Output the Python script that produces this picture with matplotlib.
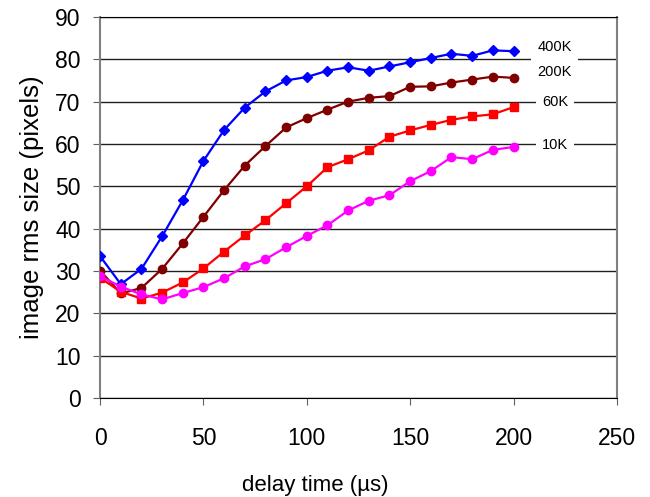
import matplotlib
matplotlib.use("Agg")
import matplotlib.pyplot as plt

plt.rcParams['font.family'] = ['Liberation Sans', 'DejaVu Sans']

# delay time (us)
delay = [0, 10, 20, 30, 40, 50, 60, 70, 80, 90, 100,
         110, 120, 130, 140, 150, 160, 170, 180, 190, 200]

size_400k = [33.5, 26.9, 30.5, 38.2, 46.7, 56.0, 63.3, 68.6, 72.4, 75.0, 75.8,
             77.3, 78.1, 77.3, 78.3, 79.3, 80.3, 81.3, 80.8, 82.1, 81.9]
size_200k = [30.1, 24.7, 26.0, 30.5, 36.5, 42.8, 49.1, 54.9, 59.5, 63.9, 66.1,
             68.1, 70.0, 70.9, 71.3, 73.5, 73.6, 74.5, 75.2, 75.9, 75.6]
size_60k = [28.4, 25.1, 23.5, 24.9, 27.3, 30.6, 34.6, 38.4, 42.0, 46.0, 50.0,
            54.5, 56.4, 58.5, 61.7, 63.2, 64.5, 65.7, 66.5, 67.0, 68.7]
size_10k = [28.8, 26.3, 24.5, 23.3, 24.8, 26.2, 28.3, 31.1, 32.8, 35.6, 38.3,
            40.8, 44.3, 46.6, 47.9, 51.2, 53.6, 56.9, 56.4, 58.6, 59.3]

series_labels = ['400K', '200K', '60K', '10K']
label_pos = [(220, 82.9), (220, 76.9), (220, 69.9), (220, 59.8)]

fig = plt.figure(figsize=(6.5, 4.97), dpi=100)
ax = fig.add_axes([0.154, 0.199, 0.795, 0.767])

ax.plot(delay, size_400k, color='#0000FF', marker='D', markersize=5.5, lw=1.6, zorder=4)
ax.plot(delay, size_200k, color='#800000', marker='o', markersize=6, lw=1.6, zorder=4)
ax.plot(delay, size_60k, color='#FF0000', marker='s', markersize=5.3, lw=1.6, zorder=4)
ax.plot(delay, size_10k, color='#FF00FF', marker='o', markersize=6, lw=1.6, zorder=4)

for lab, (lx, ly) in zip(series_labels, label_pos):
    ax.text(lx, ly, lab, fontsize=10.5, ha='center', va='center', zorder=5,
            bbox=dict(facecolor='white', edgecolor='none', pad=4.5))

ax.set_xlim(0, 250)
ax.set_ylim(0, 90)
ax.set_xticks([0, 50, 100, 150, 200, 250])
ax.set_yticks(range(0, 91, 10))
ax.yaxis.grid(True, color='#202020', lw=1)
ax.set_axisbelow(True)

for s in ['left', 'right']:
    ax.spines[s].set_color('#808080')
    ax.spines[s].set_linewidth(1.5)
ax.spines['top'].set_color('black')
ax.spines['bottom'].set_color('black')

ax.tick_params(axis='both', labelsize=16.5, direction='out', length=5, color='#606060')
ax.tick_params(axis='x', pad=16)
ax.tick_params(axis='y', pad=9)

ax.set_ylabel('image rms size (pixels)', fontsize=18.5, labelpad=8)
fig.text(315 / 650, 1 - 485 / 497, 'delay time (µs)', fontsize=16,
         ha='center', va='center')

fig.savefig('out.png', dpi=100)
